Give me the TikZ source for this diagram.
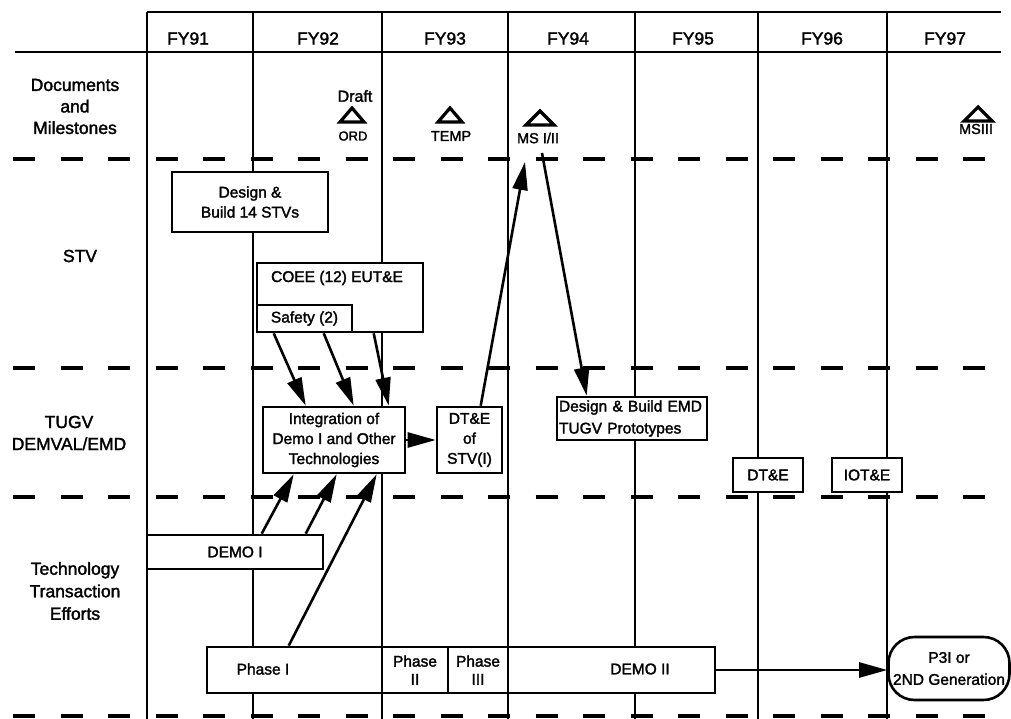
\documentclass[tikz,border=0pt]{standalone}
\usepackage{fontspec}
\setmainfont{Liberation Sans}[FakeBold=1.8]
\usetikzlibrary{arrows.meta}
\newcommand\boxfont{\fontsize{15.5}{20}\selectfont}
\newcommand\labfont{\fontsize{17.5}{22}\selectfont}
\newcommand\msfont{\fontsize{14.5}{17}\selectfont}
\tikzset{
  gridline/.style={line width=2.4pt},
  sepline/.style={line width=3.6pt, dash pattern=on 22pt off 25.5pt},
  box/.style={draw, fill=white, line width=2.6pt, inner sep=0pt, align=center, font=\boxfont},
  lbl/.style={inner sep=0pt, align=center, font=\labfont},
  txt/.style={inner sep=0pt, align=center, font=\boxfont},
  mstxt/.style={inner sep=0pt, align=center, font=\msfont},
  arr/.style={line width=2.6pt, -{Triangle[length=28pt,width=15pt]}},
  mstri/.style={line width=3.2pt, fill=white, line join=miter}
}
\begin{document}
\begin{tikzpicture}[x=1pt,y=-1pt]
\useasboundingbox (0,0) rectangle (1011,719);
% dashed separators
\foreach \yy in {159,368,497,716} \draw[sepline] (13,\yy) -- (1000,\yy);
% grid
\draw[gridline] (147,12) -- (1001,12);
\draw[gridline] (15,52) -- (1001,52);
\foreach \xx in {147,253,382,508,635,758,887} \draw[gridline] (\xx,12) -- (\xx,719);
% header
\node[lbl] (fy91) at (188,38.5) {FY91};
\node[lbl] (fy92) at (318,38.5) {FY92};
\node[lbl] (fy93) at (445,38.5) {FY93};
\node[lbl] (fy94) at (568,38.5) {FY94};
\node[lbl] (fy95) at (693,38.5) {FY95};
\node[lbl] (fy96) at (822,38.5) {FY96};
\node[lbl] (fy97) at (945,38.5) {FY97};
% row labels
\node[lbl, font=\fontsize{17.5}{21.5}\selectfont] (rdoc) at (75,106.5) {Documents\\and\\Milestones};
\node[lbl] (rstv) at (80,256) {STV};
\node[lbl] (rtugv) at (69,433) {TUGV\\DEMVAL/EMD};
\node[lbl, font=\fontsize{17.5}{22.5}\selectfont] (rtech) at (75,591) {Technology\\Transaction\\Efforts};
% milestones
\node[mstxt, font=\fontsize{16}{18}\selectfont] (draft) at (355,96) {Draft};
\draw[mstri] (340,122) -- (352,108) -- (364,122) -- cycle;
\node[mstxt, font=\fontsize{13}{15}\selectfont] (ord) at (353,136) {ORD};
\draw[mstri] (438,122) -- (450,108) -- (462,122) -- cycle;
\node[mstxt] (temp) at (451,136) {TEMP};
\draw[mstri] (526,125) -- (540,111) -- (554,125) -- cycle;
\node[mstxt] (msii) at (538,138) {MS I/II};
\draw[mstri] (964,121) -- (978,107) -- (992,121) -- cycle;
\node[mstxt] (msiii) at (976,129) {MSIII};
\coordinate (mstip) at (525,162);
\coordinate (msfoot) at (542,153);
% STV boxes
\node[box, minimum width=156pt, minimum height=60pt, font=\fontsize{15.5}{20}\selectfont] (dbstv) at (250,202) {Design \&\\Build 14 STVs};
\node[box, minimum width=166pt, minimum height=69pt] (coee) at (340,297.5) {};
\node[txt] (coeetxt) at (337,278) {COEE (12) EUT\&E};
\node[box, minimum width=95pt, minimum height=27pt] (safety) at (304.5,318.5) {Safety (2)};
% TUGV boxes
\node[box, minimum width=142pt, minimum height=66pt, font=\fontsize{15.5}{20}\selectfont] (integ) at (334,440) {Integration of\\Demo I and Other\\Technologies};
\node[box, minimum width=65pt, minimum height=66pt, font=\fontsize{15.5}{20}\selectfont] (dtestv) at (469.5,440) {DT\&E\\of\\STV(I)};
\node[box, minimum width=150pt, minimum height=43pt, text width=146pt, inner xsep=2pt, align=left, font=\fontsize{15.5}{22}\selectfont] (emd) at (632,418.5) {Design \& Build EMD\\TUGV Prototypes};
\node[box, minimum width=70pt, minimum height=34pt] (dte) at (768,475) {DT\&E};
\node[box, minimum width=70pt, minimum height=34pt] (iote) at (867,475) {IOT\&E};
% technology
\node[box, minimum width=176pt, minimum height=34pt] (demoI) at (235,552) {DEMO I};
\node[box, minimum width=175pt, minimum height=46pt] (phaseI) at (294.5,670) {};
\node[txt] (phaseItxt) at (263,669) {Phase I};
\node[box, minimum width=66pt, minimum height=46pt, font=\fontsize{15.5}{18}\selectfont] (phaseII) at (415,670) {Phase\\II};
\node[box, minimum width=60pt, minimum height=46pt, font=\fontsize{15.5}{18}\selectfont] (phaseIII) at (478,670) {Phase\\III};
\node[box, minimum width=207pt, minimum height=46pt] (demoII) at (611.5,670) {};
\node[txt] (demoIItxt) at (640,669) {DEMO II};
\node[box, minimum width=121pt, minimum height=63pt, rounded corners=26pt, font=\fontsize{15.5}{22}\selectfont] (p3i) at (949,668.5) {P3I or\\2ND Generation};
% arrows
\draw[arr] ([xshift=18pt]safety.south west) -- ([xshift=44pt]integ.north west);
\draw[arr] ([xshift=68pt]safety.south west) -- ([xshift=92pt]integ.north west);
\draw[arr] ([xshift=118pt]coee.south west) -- ([xshift=127pt]integ.north west);
\draw[arr] ([xshift=116pt]demoI.north west) -- ([xshift=32pt]integ.south west);
\draw[arr] ([xshift=160pt]demoI.north west) -- ([xshift=75pt]integ.south west);
\draw[arr] ([xshift=83pt]phaseI.north west) -- ([xshift=115pt]integ.south west);
\draw[arr] (integ.east) -- (dtestv.west);
\draw[arr] ([xshift=45pt]dtestv.north west) -- (mstip);
\draw[arr] (msfoot) -- ([xshift=31pt]emd.north west);
\draw[arr] (demoII.east) -- (demoII.east -| p3i.west);
\end{tikzpicture}
\end{document}
